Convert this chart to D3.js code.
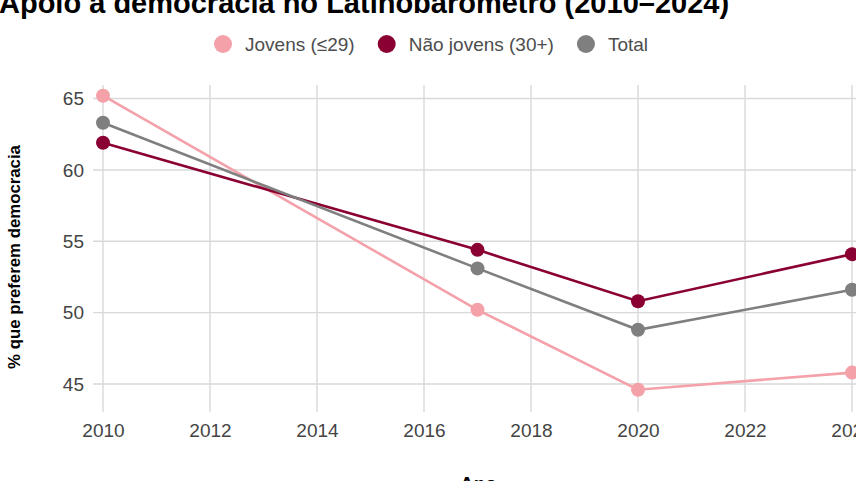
<!DOCTYPE html>
<html>
<head>
<meta charset="utf-8">
<script src="https://cdn.jsdelivr.net/npm/d3@7"></script>
<style>
  html, body { margin: 0; padding: 0; background: #fff; overflow: hidden; }
  svg { display: block; font-family: "Liberation Sans", Arial, sans-serif; }
</style>
</head>
<body>
<svg id="chart" width="856" height="481"></svg>
<script>
// Data
const years = [2010, 2017, 2020, 2024];
const jovens = [65.2, 50.2, 44.6, 45.8];
const naoJovens = [61.9, 54.4, 50.8, 54.1];
const total = [63.3, 53.1, 48.8, 51.6];
const seriesNames = ["Jovens (≤29)", "Não jovens (30+)", "Total"];
const xTicks = [2010, 2012, 2014, 2016, 2018, 2020, 2022, 2024];
const yTicks = [45, 50, 55, 60, 65];

const colors = ["#f4a1a9", "#8b0033", "#7f7f7f"];

const svg = d3.select("#chart"),
    margin = { top: 85, left: 93 },
    width = 769,
    height = 327;

// Scales
const x = d3.scaleLinear().domain([2009.813, 2024.187]).range([margin.left, margin.left + width]);
const y = d3.scaleLinear().domain([43.04, 65.95]).range([margin.top + height, margin.top]);

// Title (cut at the top, like the reference)
svg.append("text")
    .attr("x", -1)
    .attr("y", 13)
    .style("font-size", "29px")
    .style("font-weight", "bold")
    .style("fill", "#000")
    .text("Apoio à democracia no Latinobarômetro (2010–2024)");

// Gridlines
const grid = svg.append("g").attr("class", "grid");
grid.selectAll(".gx")
    .data(xTicks)
    .enter().append("line")
    .attr("x1", d => x(d)).attr("x2", d => x(d))
    .attr("y1", margin.top).attr("y2", margin.top + height)
    .style("stroke", "#d9d9d9")
    .style("stroke-width", 1.4);
grid.selectAll(".gy")
    .data(yTicks)
    .enter().append("line")
    .attr("x1", margin.left).attr("x2", margin.left + width)
    .attr("y1", d => y(d)).attr("y2", d => y(d))
    .style("stroke", "#d9d9d9")
    .style("stroke-width", 1.4);

// Axes (labels only)
const xAxis = svg.append("g")
    .attr("transform", `translate(0,${margin.top + height})`)
    .call(d3.axisBottom(x).tickValues(xTicks).tickFormat(d3.format("d")).tickSize(0).tickPadding(12));
const yAxis = svg.append("g")
    .attr("transform", `translate(${margin.left},0)`)
    .call(d3.axisLeft(y).tickValues(yTicks).tickSize(0).tickPadding(9));
[xAxis, yAxis].forEach(a => {
    a.select(".domain").remove();
    a.selectAll("text")
        .style("font-family", "'Liberation Sans', Arial, sans-serif")
        .style("font-size", "19px")
        .style("fill", "#444");
});

// Axis titles
svg.append("text")
    .attr("transform", "rotate(-90)")
    .attr("x", -257)
    .attr("y", 20)
    .attr("text-anchor", "middle")
    .style("font-size", "16.8px")
    .style("font-weight", "bold")
    .style("fill", "#000")
    .text("% que preferem democracia");

svg.append("text")
    .attr("x", x(2017) + 1)
    .attr("y", 490)
    .attr("text-anchor", "middle")
    .style("font-size", "19px")
    .style("font-weight", "bold")
    .style("fill", "#000")
    .text("Ano");

// Lines and points
const allSeries = [jovens, naoJovens, total];
const line = d3.line()
    .x((d, i) => x(years[i]))
    .y(d => y(d));

allSeries.forEach((vals, k) => {
    svg.append("path")
        .datum(vals)
        .attr("d", line)
        .style("fill", "none")
        .style("stroke", colors[k])
        .style("stroke-width", 2.6);
    svg.selectAll(".pt" + k)
        .data(vals)
        .enter().append("circle")
        .attr("cx", (d, i) => x(years[i]))
        .attr("cy", d => y(d))
        .attr("r", 7)
        .style("fill", colors[k]);
});

// Legend
const legend = svg.append("g").attr("class", "legend");
let lx = 214;
seriesNames.forEach((name, k) => {
    legend.append("circle")
        .attr("cx", lx + 9)
        .attr("cy", 44)
        .attr("r", 9)
        .style("fill", colors[k]);
    const t = legend.append("text")
        .attr("x", lx + 31)
        .attr("y", 51)
        .style("font-size", "19px")
        .style("fill", "#4d4d4d")
        .text(name);
    lx += 31 + t.node().getComputedTextLength() + 23;
});
</script>
</body>
</html>
